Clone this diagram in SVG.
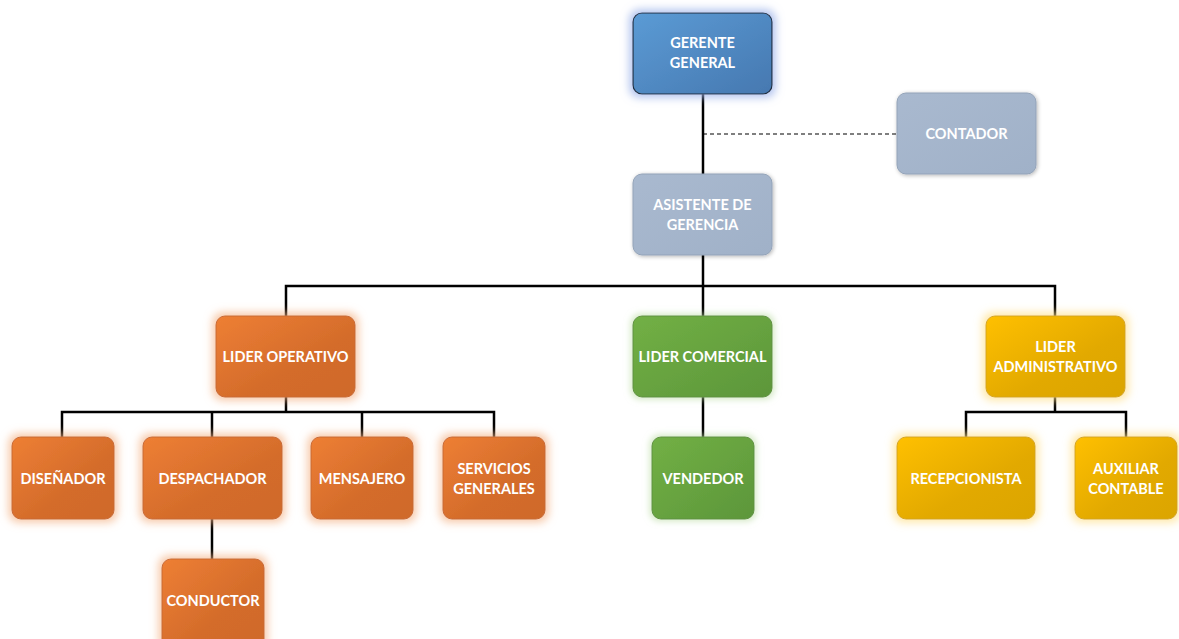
<svg xmlns="http://www.w3.org/2000/svg" width="1179" height="639" viewBox="0 0 1179 639">
  <defs>
    <linearGradient id="gBlue" x1="0" y1="0" x2="1" y2="1">
      <stop offset="0" stop-color="#5B9BD5"/>
      <stop offset="1" stop-color="#4678B0"/>
    </linearGradient>
    <linearGradient id="gGray" x1="0" y1="0" x2="1" y2="1">
      <stop offset="0" stop-color="#A9B9CF"/>
      <stop offset="1" stop-color="#A0B1C8"/>
    </linearGradient>
    <linearGradient id="gOrange" x1="0" y1="0" x2="1" y2="1">
      <stop offset="0" stop-color="#EE7F34"/>
      <stop offset="0.6" stop-color="#D46C2B"/>
      <stop offset="1" stop-color="#CF6A2B"/>
    </linearGradient>
    <linearGradient id="gGreen" x1="0" y1="0" x2="1" y2="1">
      <stop offset="0" stop-color="#72B045"/>
      <stop offset="1" stop-color="#5C963A"/>
    </linearGradient>
    <linearGradient id="gGold" x1="0" y1="0" x2="1" y2="1">
      <stop offset="0" stop-color="#FFC000"/>
      <stop offset="0.6" stop-color="#E2A900"/>
      <stop offset="1" stop-color="#DBA500"/>
    </linearGradient>
    <filter id="glowBlue" x="-30%" y="-30%" width="160%" height="160%">
      <feMorphology in="SourceAlpha" operator="dilate" radius="3" result="d"/>
      <feGaussianBlur in="d" stdDeviation="4.5" result="b"/>
      <feFlood flood-color="#9DB3EA" flood-opacity="0.8"/>
      <feComposite in2="b" operator="in" result="g"/>
      <feMerge><feMergeNode in="g"/><feMergeNode in="SourceGraphic"/></feMerge>
    </filter>
    <filter id="glowOrange" x="-30%" y="-30%" width="160%" height="160%">
      <feMorphology in="SourceAlpha" operator="dilate" radius="3" result="d"/>
      <feGaussianBlur in="d" stdDeviation="4" result="b"/>
      <feFlood flood-color="#F4B183" flood-opacity="0.7"/>
      <feComposite in2="b" operator="in" result="g"/>
      <feMerge><feMergeNode in="g"/><feMergeNode in="SourceGraphic"/></feMerge>
    </filter>
    <filter id="glowGreen" x="-30%" y="-30%" width="160%" height="160%">
      <feMorphology in="SourceAlpha" operator="dilate" radius="2" result="d"/>
      <feGaussianBlur in="d" stdDeviation="3" result="b"/>
      <feFlood flood-color="#B9DBA0" flood-opacity="0.6"/>
      <feComposite in2="b" operator="in" result="g"/>
      <feMerge><feMergeNode in="g"/><feMergeNode in="SourceGraphic"/></feMerge>
    </filter>
    <filter id="glowGold" x="-30%" y="-30%" width="160%" height="160%">
      <feMorphology in="SourceAlpha" operator="dilate" radius="3" result="d"/>
      <feGaussianBlur in="d" stdDeviation="4" result="b"/>
      <feFlood flood-color="#FFE08A" flood-opacity="0.75"/>
      <feComposite in2="b" operator="in" result="g"/>
      <feMerge><feMergeNode in="g"/><feMergeNode in="SourceGraphic"/></feMerge>
    </filter>
    <filter id="shadowGray" x="-20%" y="-20%" width="140%" height="140%">
      <feGaussianBlur in="SourceAlpha" stdDeviation="2" result="b"/>
      <feOffset in="b" dx="1" dy="1" result="o"/>
      <feComponentTransfer in="o" result="s"><feFuncA type="linear" slope="0.3"/></feComponentTransfer>
      <feMerge><feMergeNode in="s"/><feMergeNode in="SourceGraphic"/></feMerge>
    </filter>
  </defs>
  <style>
    .lbl { font-family: Lato, "Liberation Sans", sans-serif; font-weight: bold; font-size: 14.5px; fill: #FFFFFF; text-anchor: middle; }
    .blue { fill: url(#gBlue); stroke: #1F2D3D; stroke-width: 1.2; filter: url(#glowBlue); }
    .gray { fill: url(#gGray); stroke: #93A3B8; stroke-width: 1; filter: url(#shadowGray); }
    .orange { fill: url(#gOrange); stroke: #C86A35; stroke-width: 1; filter: url(#glowOrange); }
    .green { fill: url(#gGreen); stroke: #5E9140; stroke-width: 1; filter: url(#glowGreen); }
    .gold { fill: url(#gGold); stroke: #D4A520; stroke-width: 1; filter: url(#glowGold); }
    .conn { fill: none; stroke: #000000; stroke-width: 2.5; }
    .dash { fill: none; stroke: #000000; stroke-width: 1.2; stroke-dasharray: 4 3; }
  </style>
  <rect width="1179" height="639" fill="#FFFFFF"/>

  <g id="connectors">
    <path class="dash" d="M703 134 H897"/>
    <path class="conn" d="M703 94 V174"/>
    <path class="conn" d="M703 255 V316"/>
    <path class="conn" d="M286 316 V286 H1055 V316"/>
    <path class="conn" d="M286 397 V412"/>
    <path class="conn" d="M62 437 V412 H494 V437"/>
    <path class="conn" d="M212 412 V437"/>
    <path class="conn" d="M362 412 V437"/>
    <path class="conn" d="M212 519 V559"/>
    <path class="conn" d="M703 397 V437"/>
    <path class="conn" d="M1055 397 V412"/>
    <path class="conn" d="M966 437 V412 H1126 V437"/>
  </g>

  <g id="gerente-general">
    <rect class="blue" x="633" y="13" width="139" height="81" rx="9"/>
    <text class="lbl" x="702.5" y="48">GERENTE</text>
    <text class="lbl" x="702.5" y="68">GENERAL</text>
  </g>
  <g id="contador">
    <rect class="gray" x="897" y="93" width="139" height="81" rx="9"/>
    <text class="lbl" x="966.5" y="139">CONTADOR</text>
  </g>
  <g id="asistente-gerencia">
    <rect class="gray" x="633" y="174" width="139" height="81" rx="9"/>
    <text class="lbl" x="702.5" y="210">ASISTENTE DE</text>
    <text class="lbl" x="702.5" y="230">GERENCIA</text>
  </g>

  <g id="lider-operativo">
    <rect class="orange" x="216" y="316" width="139" height="81" rx="9"/>
    <text class="lbl" x="285.5" y="362">LIDER OPERATIVO</text>
  </g>
  <g id="lider-comercial">
    <rect class="green" x="633" y="316" width="139" height="81" rx="9"/>
    <text class="lbl" x="702.5" y="362">LIDER COMERCIAL</text>
  </g>
  <g id="lider-administrativo">
    <rect class="gold" x="986" y="316" width="139" height="81" rx="9"/>
    <text class="lbl" x="1055.5" y="352">LIDER</text>
    <text class="lbl" x="1055.5" y="372">ADMINISTRATIVO</text>
  </g>

  <g id="disenador">
    <rect class="orange" x="12" y="437" width="102" height="82" rx="9"/>
    <text class="lbl" x="63" y="484">DISEÑADOR</text>
  </g>
  <g id="despachador">
    <rect class="orange" x="143" y="437" width="139" height="82" rx="9"/>
    <text class="lbl" x="212.5" y="484">DESPACHADOR</text>
  </g>
  <g id="mensajero">
    <rect class="orange" x="311" y="437" width="102" height="82" rx="9"/>
    <text class="lbl" x="362" y="484">MENSAJERO</text>
  </g>
  <g id="servicios-generales">
    <rect class="orange" x="443" y="437" width="102" height="82" rx="9"/>
    <text class="lbl" x="494" y="474">SERVICIOS</text>
    <text class="lbl" x="494" y="494">GENERALES</text>
  </g>
  <g id="conductor">
    <rect class="orange" x="162" y="559" width="102" height="90" rx="9"/>
    <text class="lbl" x="213" y="606">CONDUCTOR</text>
  </g>

  <g id="vendedor">
    <rect class="green" x="652" y="437" width="102" height="82" rx="9"/>
    <text class="lbl" x="703" y="484">VENDEDOR</text>
  </g>

  <g id="recepcionista">
    <rect class="gold" x="897" y="437" width="138" height="82" rx="9"/>
    <text class="lbl" x="966" y="484">RECEPCIONISTA</text>
  </g>
  <g id="auxiliar-contable">
    <rect class="gold" x="1075" y="437" width="102" height="82" rx="9"/>
    <text class="lbl" x="1126" y="474">AUXILIAR</text>
    <text class="lbl" x="1126" y="494">CONTABLE</text>
  </g>
</svg>
